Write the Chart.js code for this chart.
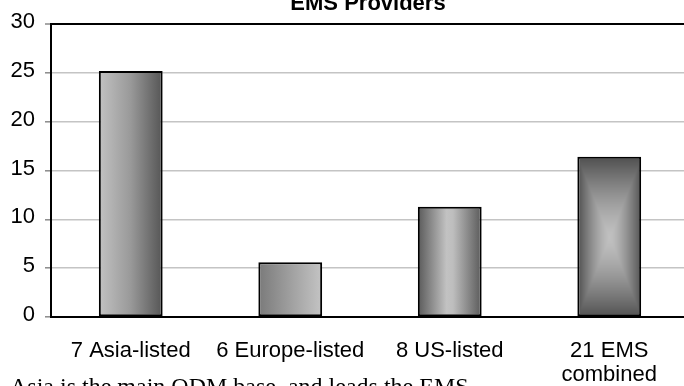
<!DOCTYPE html>
<html>
<head>
<meta charset="utf-8">
<script src="https://cdn.jsdelivr.net/npm/chart.js@4/dist/chart.umd.min.js"></script>
<style>
    html, body { margin: 0; padding: 0; overflow: hidden; background: #fff; }
    #wrap { position: relative; width: 700px; height: 386px; }
    #caption {
        position: absolute; left: 10px; top: 374px;
        font: 24px "Liberation Serif", "Times New Roman", serif;
        line-height: 24px; white-space: nowrap; color: #000;
    }
</style>
</head>
<body>
<div id="wrap">
    <canvas id="emsChart" width="700" height="386"></canvas>
    <div id="caption">Asia is the main ODM base, and leads the EMS</div>
</div>
<script>
const chartTitle = "EMS Providers";
const categories = ["7 Asia-listed", "6 Europe-listed", "8 US-listed", ["21 EMS", "combined"]];
const values = [25.2, 5.6, 11.3, 16.4];
const yMin = 0;
const yMax = 30;
const yStep = 5;

const BAR_PCT = 0.4;
const FONT = "'Liberation Sans', Arial, sans-serif";

// geometry of bar i, taken from the chart's own scales
function barBox(chart, i) {
    const xs = chart.scales.x, ys = chart.scales.y;
    const cx = xs.getPixelForValue(i);
    const half = (xs.width / categories.length) * BAR_PCT / 2;
    return {
        left: cx - half, right: cx + half,
        top: ys.getPixelForValue(values[i]), bottom: ys.getPixelForValue(0)
    };
}

function linear(ctx, b, stops) {
    const g = ctx.createLinearGradient(b.left, 0, b.right, 0);
    stops.forEach(([p, c]) => g.addColorStop(p, c));
    return g;
}

// rectangular "from centre" shading: light middle, dark edges
function boxShade(ctx, b) {
    const w = Math.max(1, Math.round(b.right - b.left));
    const h = Math.max(1, Math.round(b.bottom - b.top));
    const off = document.createElement("canvas");
    off.width = w; off.height = h;
    const octx = off.getContext("2d");
    const img = octx.createImageData(w, h);
    for (let y = 0; y < h; y++) {
        for (let x = 0; x < w; x++) {
            const t = Math.max(Math.abs(x - w / 2) / (w / 2), Math.abs(y - h / 2) / (h / 2));
            const v = Math.round(192 - 112 * Math.pow(t, 1.4));
            const k = (y * w + x) * 4;
            img.data[k] = img.data[k + 1] = img.data[k + 2] = v;
            img.data[k + 3] = 255;
        }
    }
    octx.putImageData(img, 0, 0);
    const pat = ctx.createPattern(off, "no-repeat");
    pat.setTransform(new DOMMatrix([1, 0, 0, 1, b.left, b.top]));
    return pat;
}

function barFill(context) {
    const chart = context.chart;
    if (!chart.chartArea || !chart.scales.x) return "#999";
    const ctx = chart.ctx;
    const i = context.dataIndex;
    const b = barBox(chart, i);
    switch (i) {
        case 0: return linear(ctx, b, [[0, "#c2c2c2"], [0.5, "#999"], [1, "#555"]]);
        case 1: return linear(ctx, b, [[0, "#7a7a7a"], [1, "#c4c4c4"]]);
        case 2: return linear(ctx, b, [[0, "#5a5a5a"], [0.45, "#c2c2c2"], [0.55, "#bebebe"], [1, "#5a5a5a"]]);
        default: return boxShade(ctx, b);
    }
}

const titlePlugin = {
    id: "plotTitle",
    afterDraw(chart) {
        const { ctx, chartArea } = chart;
        ctx.save();
        ctx.font = "bold 22px " + FONT;
        ctx.fillStyle = "#000";
        ctx.textAlign = "center";
        ctx.textBaseline = "alphabetic";
        ctx.fillText(chartTitle, (chartArea.left + chartArea.right) / 2 - 2, 10);
        ctx.restore();
    }
};

new Chart(document.getElementById("emsChart"), {
    type: "bar",
    data: {
        labels: categories,
        datasets: [{
            data: values,
            backgroundColor: barFill,
            borderColor: "#000",
            borderWidth: 2,
            borderSkipped: false,
            barPercentage: BAR_PCT,
            categoryPercentage: 1
        }]
    },
    options: {
        responsive: false,
        animation: false,
        events: [],
        layout: { padding: { top: 24, right: 11, left: 0, bottom: 0 } },
        plugins: {
            legend: { display: false },
            title: { display: false },
            tooltip: { enabled: false }
        },
        scales: {
            x: {
                grid: { display: false },
                border: { color: "#000", width: 2 },
                ticks: {
                    color: "#000",
                    font: { family: FONT, size: 22, lineHeight: 1.1 },
                    padding: 14,
                    maxRotation: 0,
                    autoSkip: false
                },
                afterFit(scale) { scale.height = 69; }
            },
            y: {
                min: yMin,
                max: yMax,
                ticks: {
                    stepSize: yStep,
                    color: "#000",
                    font: { family: FONT, size: 22 },
                    padding: 10,
                    labelOffset: -2
                },
                grid: {
                    color: c => (c.tick && (c.tick.value === yMax || c.tick.value === yMin)) ? "#000" : "#c4c4c4",
                    lineWidth: c => (c.tick && c.tick.value === yMax) ? 2 : 1.6,
                    tickColor: "#8a8a8a",
                    tickLength: 6,
                    tickWidth: 1.5
                },
                border: { color: "#000", width: 2 },
                afterFit(scale) { scale.width = 51; }
            }
        }
    },
    plugins: [titlePlugin]
});
</script>
</body>
</html>
